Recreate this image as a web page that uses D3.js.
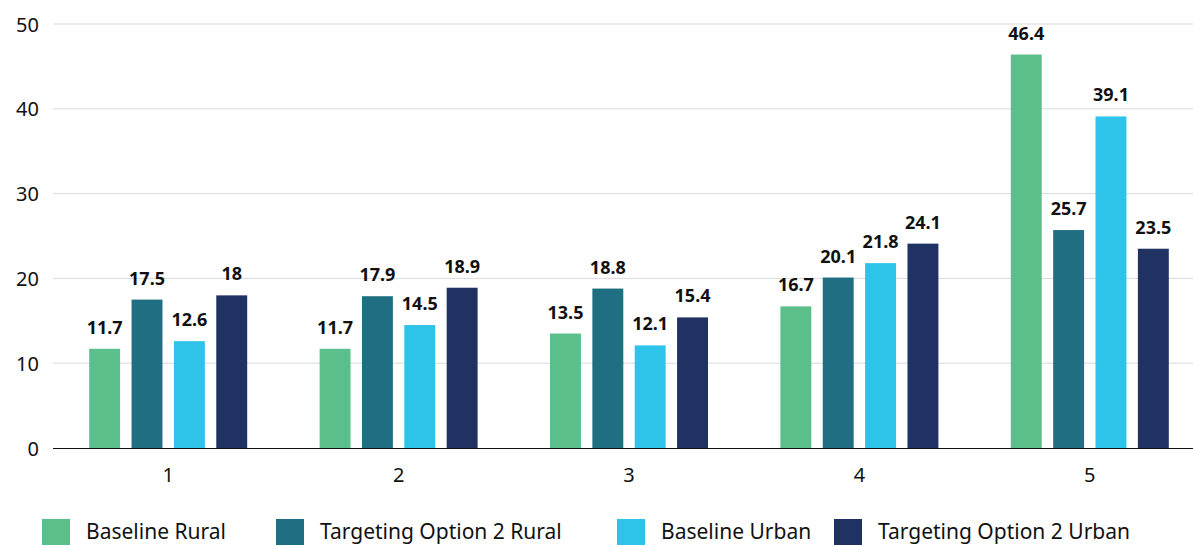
<!DOCTYPE html>
<html>
<head>
<meta charset="utf-8">
<title>Grouped bars</title>
<style>
body { margin: 0; background: #fff; }
text { font-family: "Noto Sans", sans-serif; }
.tick text { font-size: 20px; fill: #111; }
.val { font-size: 18px; font-weight: bold; fill: #111; }
.leg { font-size: 21px; fill: #111; }
</style>
</head>
<body>
<svg width="1193" height="545"></svg>
<script src="https://cdnjs.cloudflare.com/ajax/libs/d3/7.8.5/d3.min.js"></script>
<script>
var categories = ["1", "2", "3", "4", "5"];
var seriesNames = ["Baseline Rural", "Targeting Option 2 Rural", "Baseline Urban", "Targeting Option 2 Urban"];
var baselineRural = [11.7, 11.7, 13.5, 16.7, 46.4];
var optionRural = [17.5, 17.9, 18.8, 20.1, 25.7];
var baselineUrban = [12.6, 14.5, 12.1, 21.8, 39.1];
var optionUrban = [18, 18.9, 15.4, 24.1, 23.5];
var yTicks = [0, 10, 20, 30, 40, 50];
var colors = ["#5bbf8b", "#1f6e82", "#2ec4ea", "#1f3262"];

var series = [baselineRural, optionRural, baselineUrban, optionUrban];

var svg = d3.select("svg");

var x = d3.scaleBand().domain(categories).range([53, 1205]);
var x1 = d3.scaleBand().domain(d3.range(4)).range([-79, 79]).paddingInner(0.27);
var y = d3.scaleLinear().domain([0, 50]).range([448, 24]);

// gridlines
svg.append("g")
  .selectAll("line")
  .data(yTicks.filter(function(d) { return d > 0; }))
  .enter().append("line")
  .attr("x1", 53).attr("x2", 1193)
  .attr("y1", function(d) { return y(d); })
  .attr("y2", function(d) { return y(d); })
  .attr("stroke", "#d9d9d9").attr("stroke-width", 1);

// y axis labels
var yAxis = svg.append("g")
  .attr("transform", "translate(39,0)")
  .call(d3.axisLeft(y).tickValues(yTicks).tickSize(0).tickPadding(0));
yAxis.select(".domain").remove();
yAxis.selectAll("text").attr("dy", "0.35em");

// bars
var groups = svg.append("g")
  .selectAll("g")
  .data(categories)
  .enter().append("g")
  .attr("transform", function(d) { return "translate(" + (x(d) + x.bandwidth() / 2) + ",0)"; });

groups.each(function(c, ci) {
  var g = d3.select(this);
  series.forEach(function(s, si) {
    g.append("rect")
      .attr("x", x1(si))
      .attr("width", x1.bandwidth())
      .attr("y", y(s[ci]))
      .attr("height", y(0) - y(s[ci]))
      .attr("fill", colors[si]);
    g.append("text")
      .attr("class", "val")
      .attr("x", x1(si) + x1.bandwidth() / 2)
      .attr("y", y(s[ci]) - 15)
      .attr("text-anchor", "middle")
      .text(s[ci]);
  });
});

// x axis
var xAxis = svg.append("g")
  .attr("transform", "translate(0,448)")
  .call(d3.axisBottom(x).tickSize(0).tickPadding(20));
xAxis.select(".domain").remove();
svg.append("line")
  .attr("x1", 53).attr("x2", 1193)
  .attr("y1", 448.5).attr("y2", 448.5)
  .attr("stroke", "#111").attr("stroke-width", 1.2);

// legend
var legX = [42, 276, 617, 834];
var leg = svg.append("g")
  .selectAll("g")
  .data(seriesNames)
  .enter().append("g")
  .attr("transform", function(d, i) { return "translate(" + legX[i] + ",519)"; });
leg.append("rect").attr("width", 28).attr("height", 26)
  .attr("fill", function(d, i) { return colors[i]; });
leg.append("text").attr("class", "leg")
  .attr("x", 44).attr("y", 20)
  .text(function(d) { return d; });
</script>
</body>
</html>
